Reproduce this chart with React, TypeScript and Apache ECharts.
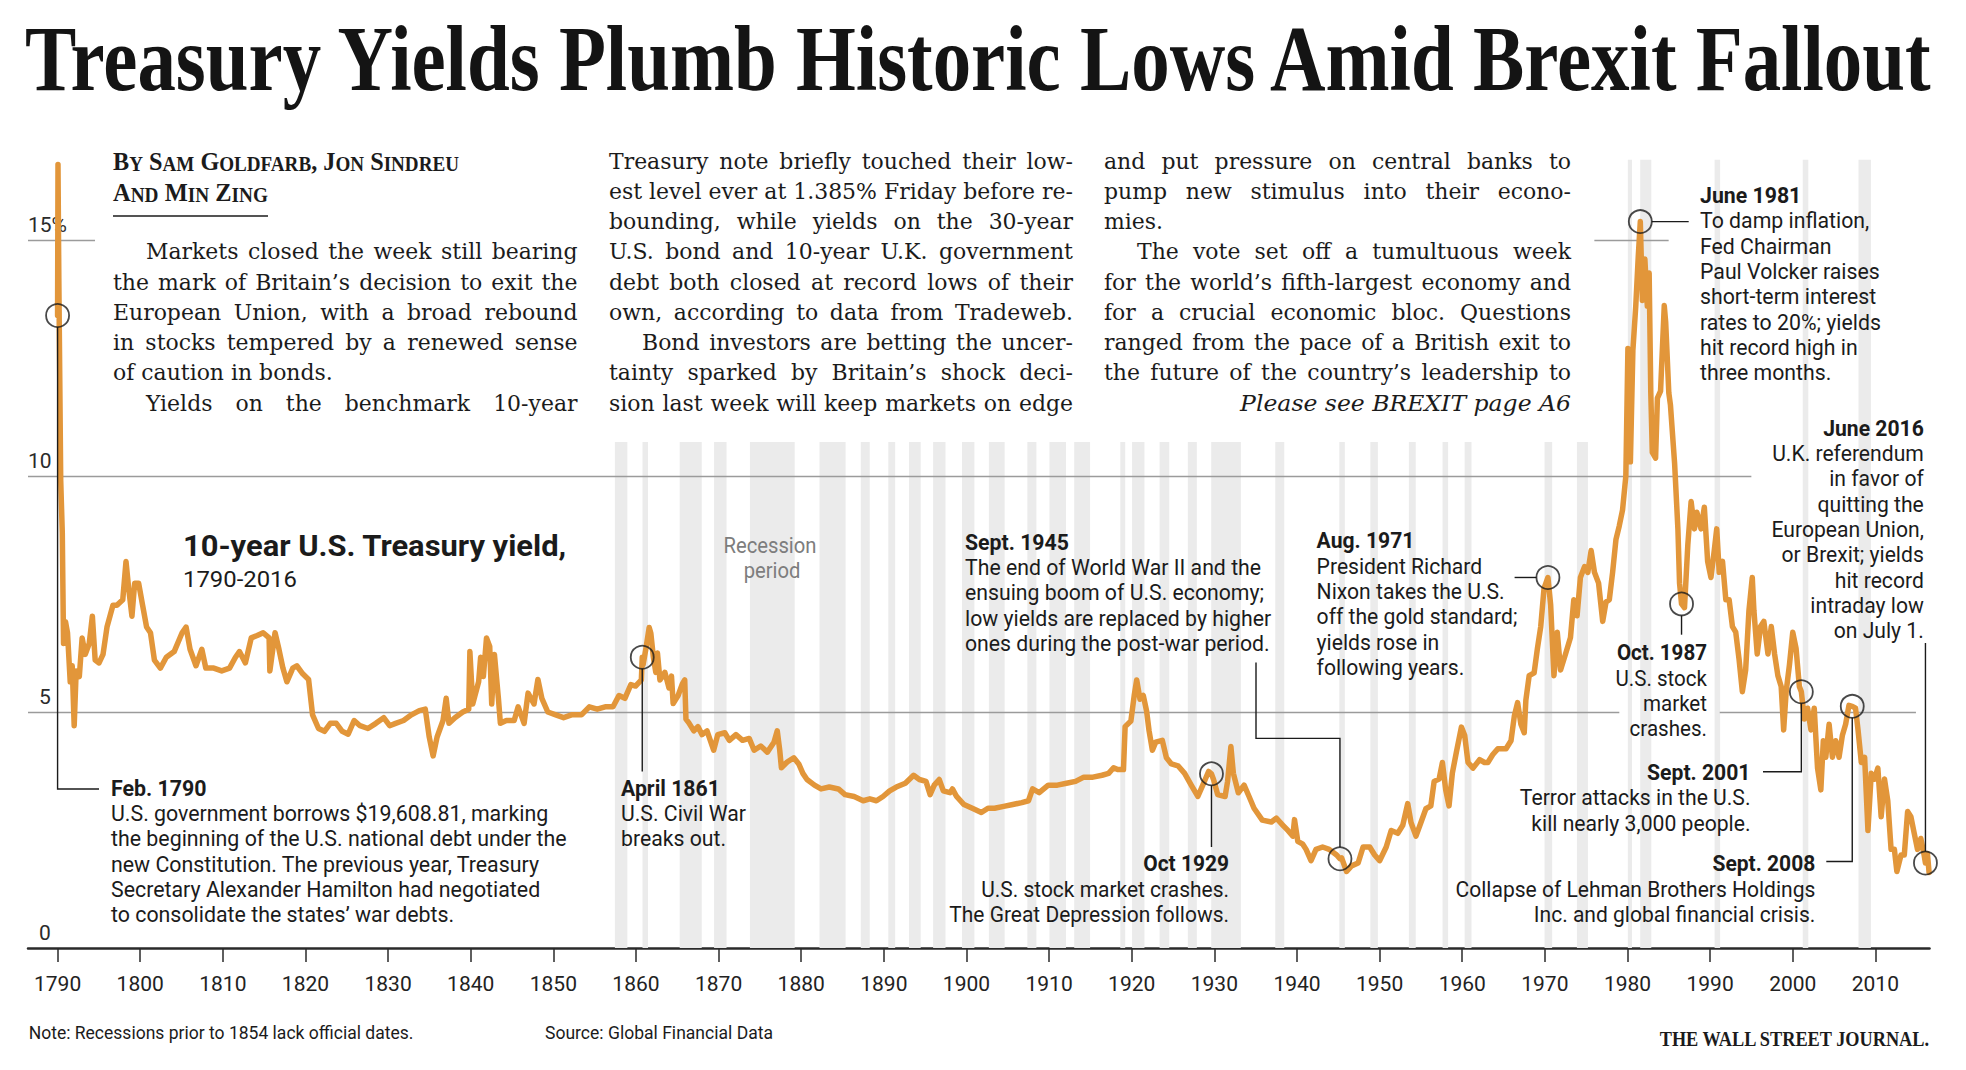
import React, { useEffect, useRef } from "react";
import * as echarts from "echarts";

const W = 1966;
const H = 1070;
const SERIF = '"Liberation Serif", "Times New Roman", serif';
const BODY_SERIF = '"DejaVu Serif", "Liberation Serif", serif';
const SANS = 'Roboto, "Liberation Sans", Arial, sans-serif';
const INK = "#1b1b1b";
const ORANGE = "#e2963a";
const BAND = "#ebebeb";
const GRIDC = "#9b9b9b";

// ---------------- data ----------------
const yearsA = [
  1790.0, 1790.05, 1790.15, 1790.38, 1790.57, 1790.72, 1790.96, 1791.2, 1791.53, 1791.77,
  1792.01, 1792.25, 1792.63, 1792.97, 1793.35, 1793.83, 1794.21, 1794.55, 1795.02, 1795.5,
  1795.98, 1796.7, 1797.18, 1797.89, 1798.28, 1798.61, 1799.0, 1799.33, 1799.81, 1800.29,
  1800.77, 1801.24, 1801.72, 1802.44, 1803.16, 1804.11, 1805.07, 1805.55, 1806.03, 1806.75,
  1807.46, 1807.94, 1808.9, 1809.86, 1810.81, 1811.53, 1812.01, 1812.73, 1813.44, 1814.16,
  1814.88, 1815.6, 1815.69, 1816.32, 1816.79, 1817.27, 1817.75, 1818.47, 1818.95, 1819.67,
  1820.38, 1820.86, 1821.58, 1822.3, 1823.01, 1823.73, 1824.45, 1825.17, 1825.89, 1826.6,
  1827.56, 1828.52, 1829.47, 1830.19, 1830.91, 1831.87, 1832.82, 1833.78, 1834.5, 1834.98,
  1835.45, 1835.93, 1836.65, 1837.03, 1837.37, 1838.09, 1839.04, 1839.76, 1839.9, 1840.24,
  1840.96, 1841.2, 1841.53, 1841.91, 1842.3, 1842.54, 1842.87, 1843.35, 1843.59, 1844.31,
  1845.26, 1845.74, 1846.46, 1846.94, 1847.66, 1848.13, 1848.61, 1849.33, 1850.29, 1851.24,
  1852.2, 1853.4, 1854.35, 1855.31, 1856.27, 1857.22, 1857.94, 1858.66, 1859.38,
];
const yieldsA = [
  13.4, 16.6, 14.2, 9.9, 8.8, 6.45, 6.91, 6.68, 5.64, 5.98,
  4.71, 5.87, 5.75, 6.57, 6.22, 6.45, 7.03, 6.1, 6.04, 6.22,
  6.8, 7.26, 7.26, 7.38, 8.19, 7.61, 7.03, 7.73, 7.73, 7.26,
  6.8, 6.68, 6.1, 5.93, 6.16, 6.28, 6.68, 6.8, 6.33, 5.98,
  6.33, 5.93, 5.93, 5.87, 5.93, 6.16, 6.28, 6.04, 6.57, 6.62,
  6.68, 6.57, 5.87, 6.68, 6.33, 5.93, 5.64, 5.93, 5.98, 5.81,
  5.69, 4.94, 4.65, 4.59, 4.76, 4.76, 4.59, 4.53, 4.82, 4.71,
  4.65, 4.76, 4.88, 4.71, 4.76, 4.82, 4.94, 5.03, 5.06, 4.47,
  4.07, 4.47, 4.82, 5.29, 4.76, 4.88, 5.0, 5.06, 6.28, 5.17,
  5.64, 6.16, 5.75, 6.57, 6.39, 5.17, 6.22, 5.29, 4.76, 4.82,
  4.82, 5.11, 4.76, 5.4, 5.17, 5.69, 5.29, 5.0, 4.94, 4.88,
  4.94, 4.94, 5.11, 5.06, 5.11, 5.11, 5.35, 5.29, 5.58,
];

const yearsB = [
  1859.95, 1860.65, 1860.76, 1860.86, 1861.2, 1861.6, 1861.8, 1862.1, 1862.4, 1862.6,
  1862.9, 1863.5, 1864.0, 1864.3, 1864.5, 1865.1, 1865.6, 1865.9, 1866.05, 1866.4,
  1867.0, 1867.5, 1868.0, 1868.6, 1869.4, 1869.9, 1870.75, 1871.3, 1872.1, 1872.9,
  1873.7, 1874.3, 1875.1, 1875.9, 1876.7, 1877.1, 1877.4, 1877.6, 1878.3, 1879.1,
  1879.7, 1880.2, 1880.7, 1881.6, 1882.4, 1883.4, 1884.5, 1885.3, 1886.4, 1887.5,
  1888.3, 1889.1, 1889.9, 1890.7, 1891.5, 1892.6, 1893.6, 1894.3, 1895.1, 1895.6,
  1896.1, 1896.7, 1897.2, 1898.0, 1898.3, 1898.8, 1899.7, 1900.7, 1901.8, 1902.6,
  1903.4, 1904.5, 1905.6, 1906.7, 1907.5, 1908.0, 1908.8, 1909.9, 1911.0, 1912.1,
  1913.2, 1914.2, 1915.3, 1916.4, 1917.2, 1917.8, 1918.3, 1919.0, 1919.2, 1919.9,
  1920.3, 1920.6, 1921.0, 1921.4, 1921.8, 1922.1, 1922.5, 1922.9, 1923.7, 1924.2,
  1924.8, 1925.6, 1926.4, 1927.2, 1928.0, 1928.6, 1929.3, 1929.65, 1929.9, 1930.4,
  1931.3, 1931.6, 1932.0, 1932.3, 1932.9, 1933.6, 1934.2, 1934.8, 1935.8, 1936.9,
  1937.5, 1938.3, 1938.9, 1939.5, 1939.7, 1940.1,
];
const yieldsB = [
  5.55, 5.68, 6.16, 6.0, 6.34, 6.79, 6.67, 6.17, 5.84, 6.25,
  5.68, 5.84, 5.51, 5.76, 5.18, 5.35, 5.59, 5.68, 4.85, 4.77,
  4.6, 4.69, 4.52, 4.6, 4.19, 4.52, 4.56, 4.4, 4.52, 4.4,
  4.44, 4.19, 4.28, 4.15, 4.36, 4.6, 4.19, 3.82, 3.94, 4.03,
  3.9, 3.7, 3.57, 3.45, 3.37, 3.41, 3.37, 3.25, 3.21, 3.12,
  3.16, 3.12, 3.21, 3.33, 3.41, 3.49, 3.66, 3.57, 3.53, 3.25,
  3.45, 3.57, 3.33, 3.29, 3.37, 3.21, 3.04, 2.96, 2.87, 2.96,
  2.96, 3.0, 3.04, 3.08, 3.12, 3.37, 3.29, 3.45, 3.45, 3.49,
  3.53, 3.62, 3.62, 3.66, 3.7, 3.82, 3.78, 3.78, 4.69, 4.81,
  5.35, 5.68, 5.27, 5.35, 5.02, 4.6, 4.19, 4.36, 4.4, 4.03,
  3.9, 3.86, 3.7, 3.45, 3.21, 3.45, 3.74, 3.69, 3.57, 3.25,
  3.21, 3.53, 4.27, 3.7, 3.29, 3.45, 3.21, 2.96, 2.71, 2.67,
  2.75, 2.6, 2.49, 2.37, 2.72, 2.26,
];

const yearsC = [
  1940.7, 1941.1, 1941.7, 1942.3, 1943.1, 1943.9, 1944.8, 1945.2, 1945.4, 1946.0,
  1946.6, 1947.4, 1948.0, 1948.8, 1949.4, 1950.0, 1950.8, 1951.4, 1952.2, 1952.8,
  1953.4, 1953.8, 1954.4, 1955.0, 1955.6, 1956.2, 1956.6, 1957.2, 1957.6, 1958.0,
  1958.4, 1958.8, 1959.3, 1959.9, 1960.3, 1960.7, 1961.3, 1962.1, 1962.7, 1963.1,
  1963.7, 1964.3, 1965.3, 1965.9, 1966.3, 1966.7, 1967.1, 1967.5, 1967.7, 1968.1,
  1968.7, 1969.1, 1969.5, 1969.9, 1970.37, 1970.7, 1971.1, 1971.5, 1971.9, 1972.5,
  1973.1, 1973.5, 1973.9, 1974.3, 1974.8, 1975.2, 1975.6, 1976.0, 1976.5, 1977.0,
  1977.4, 1977.8, 1978.2, 1978.6, 1979.0, 1979.4, 1979.8, 1980.05, 1980.35, 1980.65,
  1981.0, 1981.3, 1981.55, 1981.8, 1982.1, 1982.4, 1982.62, 1982.82, 1983.0, 1983.4,
  1983.62, 1984.0, 1984.45, 1984.62, 1985.0, 1985.2, 1985.7, 1986.1, 1986.3, 1986.54,
  1986.9, 1987.3, 1987.7, 1988.1, 1988.4, 1988.9, 1989.3, 1989.7, 1990.1, 1990.5,
  1990.8, 1991.1, 1991.5, 1991.9, 1992.3, 1992.7, 1993.1, 1993.5, 1993.9, 1994.3,
  1994.7, 1995.1, 1995.3, 1995.7, 1996.1, 1996.5, 1997.0, 1997.4, 1997.8, 1998.2,
  1998.6, 1998.9, 1999.2, 1999.6, 2000.0, 2000.4, 2000.8, 2001.04, 2001.4, 2001.8,
  2002.2, 2002.6, 2003.0, 2003.4, 2003.7, 2004.0, 2004.4, 2004.8, 2005.2, 2005.6,
  2006.0, 2006.4, 2006.8, 2007.2, 2007.6, 2007.9, 2008.3, 2008.7, 2009.1, 2009.5,
  2009.9, 2010.3, 2010.7, 2011.1, 2011.5, 2011.9, 2012.3, 2012.6, 2013.1, 2013.5,
  2013.9, 2014.3, 2014.7, 2015.1, 2015.5, 2015.9, 2016.06, 2016.3, 2016.5,
];
const yieldsC = [
  2.2, 2.09, 1.85, 2.09, 2.14, 2.09, 1.97, 1.89, 1.91, 1.62,
  1.74, 1.8, 2.14, 2.14, 1.97, 1.85, 2.14, 2.49, 2.43, 2.6,
  3.06, 2.66, 2.37, 2.66, 2.95, 3.01, 3.53, 3.58, 3.93, 3.35,
  3.01, 3.7, 4.16, 4.68, 4.5, 3.93, 3.81, 3.99, 3.93, 3.93,
  4.1, 4.22, 4.22, 4.39, 4.91, 5.2, 4.74, 4.56, 5.25, 5.77,
  5.83, 6.35, 6.81, 7.62, 7.85, 7.27, 5.77, 6.69, 5.89, 6.23,
  6.58, 7.38, 7.04, 7.85, 8.08, 7.96, 8.42, 7.96, 7.73, 6.92,
  7.33, 7.38, 7.96, 8.65, 8.94, 9.28, 10.0, 12.7, 10.3, 12.65,
  13.6, 14.64, 15.39, 13.72, 14.6, 13.6, 14.3, 11.76, 10.5, 10.38,
  11.65, 11.8, 13.61, 13.26, 11.76, 11.5, 10.27, 8.88, 7.73, 7.29,
  7.21, 8.54, 9.46, 8.88, 9.23, 8.88, 9.34, 8.19, 7.85, 8.42,
  8.88, 7.96, 8.19, 7.38, 7.38, 6.81, 6.69, 6.12, 5.43, 5.89,
  7.15, 7.85, 7.15, 6.23, 6.81, 6.92, 6.23, 6.81, 6.23, 5.77,
  5.54, 4.62, 5.43, 6.0, 6.69, 6.35, 5.54, 5.43, 4.85, 5.08,
  4.62, 5.08, 3.81, 3.35, 4.39, 4.04, 4.74, 4.04, 4.39, 4.04,
  4.5, 4.74, 5.14, 5.12, 5.08, 4.62, 3.93, 4.04, 2.49, 3.7,
  3.58, 3.81, 2.78, 3.58, 3.12, 2.09, 2.09, 1.62, 1.97, 1.97,
  2.89, 2.78, 2.43, 2.09, 2.32, 1.97, 1.8, 2.0, 1.6,
];

// recession periods (NBER), decimal years
const recessionStart = [
  1857.45, 1860.79, 1865.29, 1869.45, 1873.79, 1882.21, 1887.21, 1890.54, 1893.04, 1895.96,
  1899.46, 1902.71, 1907.37, 1910.04, 1913.04, 1918.62, 1920.04, 1923.37, 1926.79, 1929.62,
  1937.37, 1945.12, 1948.88, 1953.54, 1957.62, 1960.29, 1969.96, 1973.88, 1980.04, 1981.54,
  1990.54, 2001.21, 2007.96,
];
const recessionEnd = [
  1858.96, 1861.46, 1867.96, 1870.96, 1879.21, 1885.37, 1888.29, 1891.37, 1894.46, 1897.46,
  1900.96, 1904.62, 1908.46, 1912.04, 1914.96, 1919.21, 1921.54, 1924.54, 1927.88, 1933.21,
  1938.46, 1945.79, 1949.79, 1954.37, 1958.29, 1961.12, 1970.88, 1975.21, 1980.54, 1982.88,
  1991.21, 2001.88, 2009.46,
];

// annotated events (circles on the line)
const eventYears = [1790.0, 1860.76, 1929.65, 1945.2, 1970.37, 1981.55, 1986.54, 2001.04, 2007.2, 2016.06];
const eventYields = [13.4, 6.16, 3.69, 1.89, 7.85, 15.39, 7.29, 5.43, 5.12, 1.8];

const decadeTicks = [1790, 1800, 1810, 1820, 1830, 1840, 1850, 1860, 1870, 1880, 1890, 1900,
  1910, 1920, 1930, 1940, 1950, 1960, 1970, 1980, 1990, 2000, 2010];
const yTicks = [0, 5, 10, 15];

// ---------------- layout ----------------
const X_MIN = 1786.42;
const X_MAX = 2016.55;
const Y_MAX = 17;
const BAND_TOP_LOW = 10.72; // bands stop below the article text
const BAND_TOP_HIGH = 16.7; // bands right of the text columns
const BAND_SPLIT_YEAR = 1978;
// gridline segments [value, fromYear, toYear]
const GRID_SEGMENTS: [number, number, number][] = [
  [15, 1786.42, 1794.53],
  [15, 1975.99, 1984.98],
  [10, 1786.42, 1994.99],
  [5, 1786.42, 1979.01],
  [5, 1991.16, 2014.91],
];

const TITLE = "Treasury Yields Plumb Historic Lows Amid Brexit Fallout";

const COLS = [
  { left: 113, right: 577.5 },
  { left: 609, right: 1073 },
  { left: 1104, right: 1571 },
];
const LINE0 = 160.5;
const LEAD = 30.25;
const BODY_SIZE = 23;

type BodyLine = [string, string];
const col1: BodyLine[] = [
  ["Markets closed the week still bearing", "ji"],
  ["the mark of Britain\u2019s decision to exit the", "j"],
  ["European Union, with a broad rebound", "j"],
  ["in stocks tempered by a renewed sense", "j"],
  ["of caution in bonds.", "l"],
  ["Yields on the benchmark 10-year", "ji"],
];
const col2: BodyLine[] = [
  ["Treasury note briefly touched their low-", "j"],
  ["est level ever at 1.385% Friday before re-", "j"],
  ["bounding, while yields on the 30-year", "j"],
  ["U.S. bond and 10-year U.K. government", "j"],
  ["debt both closed at record lows of their", "j"],
  ["own, according to data from Tradeweb.", "j"],
  ["Bond investors are betting the uncer-", "ji"],
  ["tainty sparked by Britain\u2019s shock deci-", "j"],
  ["sion last week will keep markets on edge", "j"],
];
const col3: BodyLine[] = [
  ["and put pressure on central banks to", "j"],
  ["pump new stimulus into their econo-", "j"],
  ["mies.", "l"],
  ["The vote set off a tumultuous week", "ji"],
  ["for the world\u2019s fifth-largest economy and", "j"],
  ["for a crucial economic bloc. Questions", "j"],
  ["ranged from the pace of a British exit to", "j"],
  ["the future of the country\u2019s leadership to", "j"],
  ["Please see BREXIT page A6", "r"],
];

const NOTES = [
  { head: "Feb. 1790", body: ["U.S. government borrows $19,608.81, marking", "the beginning of the U.S. national debt under the", "new Constitution. The previous year, Treasury", "Secretary Alexander Hamilton had negotiated", "to consolidate the states\u2019 war debts."], x: 111, y: 788, align: "left", ref: 1, refW: 456 },
  { head: "April 1861", body: ["U.S. Civil War", "breaks out."], x: 621, y: 788, align: "left", ref: 0, refW: 125 },
  { head: "Sept. 1945", body: ["The end of World War II and the", "ensuing boom of U.S. economy;", "low yields are replaced by higher", "ones during the post-war period."], x: 965, y: 542, align: "left", ref: 3, refW: 305 },
  { head: "Oct 1929", body: ["U.S. stock market crashes.", "The Great Depression follows."], x: 1229, y: 863.7, align: "right", ref: 1, refW: 280 },
  { head: "Aug. 1971", body: ["President Richard", "Nixon takes the U.S.", "off the gold standard;", "yields rose in", "following years."], x: 1316.6, y: 540.6, align: "left", ref: 2, refW: 201 },
  { head: "June 1981", body: ["To damp inflation,", "Fed Chairman", "Paul Volcker raises", "short-term interest", "rates to 20%; yields", "hit record high in", "three months."], x: 1700, y: 195.3, align: "left", ref: 4, refW: 181 },
  { head: "June 2016", body: ["U.K. referendum", "in favor of", "quitting the", "European Union,", "or Brexit; yields", "hit record", "intraday low", "on July 1."], x: 1923.8, y: 428, align: "right", ref: 3, refW: 152.4 },
  { head: "Oct. 1987", body: ["U.S. stock", "market", "crashes."], x: 1707, y: 652.6, align: "right", ref: 0, refW: 91.5 },
  { head: "Sept. 2001", body: ["Terror attacks in the U.S.", "kill nearly 3,000 people."], x: 1750.5, y: 772.3, align: "right", ref: 0, refW: 230.7 },
  { head: "Sept. 2008", body: ["Collapse of Lehman Brothers Holdings", "Inc. and global financial crisis."], x: 1815.3, y: 863.6, align: "right", ref: 0, refW: 360 },
];
const NOTE_SIZE = 22.5;
const NOTE_LEAD = 25.3;
const R = 11.5;

// ---------------- helpers ----------------
let mctx: CanvasRenderingContext2D | null = null;
function measure(text: string, size: number, family: string, weight = "normal", style = "normal") {
  if (!mctx) mctx = document.createElement("canvas").getContext("2d");
  mctx!.font = `${style} ${weight} ${size}px ${family}`;
  return mctx!.measureText(text).width;
}

function T(text: string, x: number, y: number, o: any) {
  const align = o.align || "left";
  const style: any = {
    text,
    fill: o.color || INK,
    fontSize: o.size,
    fontFamily: o.family || SANS,
    fontWeight: o.weight || "normal",
    fontStyle: o.italic ? "italic" : "normal",
    align,
    textAlign: align,
    verticalAlign: "middle",
    textVerticalAlign: "middle",
  };
  if (o.rich) style.rich = o.rich;
  return { type: "text", x, y, scaleX: o.sx || 1, silent: true, z: 100, style };
}

function lineGeom(col: { left: number; right: number }, mode: string) {
  const indent = mode === "ji" ? 33 : 0;
  const x0 = col.left + indent;
  return { x0, width: col.right - x0 };
}

// one horizontal glyph scale for the whole article, so the tightest justified line fits exactly
function articleScale() {
  let s = 1;
  [col1, col2, col3].forEach((lines, ci) => {
    lines.forEach(([text, mode]) => {
      if (mode !== "j" && mode !== "ji") return;
      const { width } = lineGeom(COLS[ci], mode);
      s = Math.min(s, width / measure(text, BODY_SIZE, BODY_SERIF));
    });
  });
  return Math.max(0.7, s);
}

function bodyColumn(lines: BodyLine[], colIdx: number, startRow: number, s: number, els: any[]) {
  const col = COLS[colIdx];
  const size = BODY_SIZE;
  lines.forEach(([text, mode], k) => {
    const y = LINE0 + LEAD * (startRow + k);
    const { x0, width } = lineGeom(col, mode);
    if (mode === "r") {
      const nat = measure(text, size, BODY_SERIF, "normal", "italic");
      els.push(T(text, col.right, y, { size, family: BODY_SERIF, italic: true, align: "right", sx: 331 / nat }));
      return;
    }
    if (mode === "l") {
      els.push(T(text, x0, y, { size, family: BODY_SERIF, sx: s }));
      return;
    }
    const words = text.split(" ");
    const ww = words.map((w) => measure(w, size, BODY_SERIF) * s);
    const gap = (width - ww.reduce((a, b) => a + b, 0)) / Math.max(1, words.length - 1);
    let x = x0;
    words.forEach((w, i) => {
      els.push(T(w, x, y, { size, family: BODY_SERIF, sx: s }));
      x += ww[i] + gap;
    });
  });
}

function smallCaps(s: string, big: number, small: number) {
  const segs: [string, string][] = [];
  let i = 0;
  while (i < s.length) {
    const lower = /[a-z]/.test(s[i]);
    let j = i;
    while (j < s.length && /[a-z]/.test(s[j]) === lower) j++;
    segs.push([lower ? "s" : "b", lower ? s.slice(i, j).toUpperCase() : s.slice(i, j)]);
    i = j;
  }
  const text = segs.map(([k, t]) => `{${k}|${t}}`).join("");
  const width = segs.reduce((a, [k, t]) => a + measure(t, k === "b" ? big : small, SERIF, "bold"), 0);
  return { text, width };
}

function buildOption() {
  const lineData = [
    ...yearsA.map((y, i) => [y, yieldsA[i]]),
    ...yearsB.map((y, i) => [y, yieldsB[i]]),
    ...yearsC.map((y, i) => [y, yieldsC[i]]),
  ];
  const bands = recessionStart.map((s, i) => [
    { xAxis: s, yAxis: 0 },
    { xAxis: recessionEnd[i], yAxis: s > BAND_SPLIT_YEAR ? BAND_TOP_HIGH : BAND_TOP_LOW },
  ]);
  const grids = GRID_SEGMENTS.map(([v, a, b]) => [{ coord: [a, v] }, { coord: [b, v] }]);
  const labelRich = {
    p: { padding: [0, 0, 0, 11], fontSize: 21, fontFamily: SANS, color: "#2b2b2b", lineHeight: 31 },
  };
  return {
    animation: false,
    backgroundColor: "#ffffff",
    grid: { left: 28, right: W - 1929.5, top: 948 - Y_MAX * 47.2, bottom: H - 948, containLabel: false, outerBoundsMode: "none" },
    xAxis: {
      type: "value",
      min: X_MIN,
      max: X_MAX,
      axisLine: { show: true, lineStyle: { color: "#2a2a2a", width: 2.5 } },
      axisTick: { show: true, customValues: decadeTicks, length: 14, lineStyle: { color: "#2a2a2a", width: 1.5 } },
      axisLabel: { customValues: decadeTicks, margin: 25, fontSize: 21, fontFamily: SANS, color: "#222", formatter: (v: number) => String(v) },
      splitLine: { show: false },
    },
    yAxis: {
      type: "value",
      min: 0,
      max: Y_MAX,
      axisLine: { show: false },
      axisTick: { show: false },
      splitLine: { show: false },
      axisLabel: {
        inside: true,
        margin: 0,
        align: "left",
        customValues: yTicks,
        verticalAlign: "bottom",
        lineHeight: 31,
        fontSize: 21,
        fontFamily: SANS,
        color: "#2b2b2b",
        rich: labelRich,
        formatter: (v: number) => (v === 15 ? "15%" : v === 10 ? "10" : `{p|${v}}`),
      },
    },
    series: [
      {
        type: "line",
        data: [],
        silent: true,
        markArea: { silent: true, z: 1, itemStyle: { color: BAND }, label: { show: false }, data: bands },
        markLine: {
          silent: true,
          z: 2,
          symbol: ["none", "none"],
          label: { show: false },
          lineStyle: { color: GRIDC, width: 1.3, type: "solid" },
          data: grids,
        },
      },
      {
        type: "line",
        data: lineData,
        z: 3,
        silent: true,
        showSymbol: false,
        symbol: "none",
        lineStyle: { color: ORANGE, width: 5.5, join: "round", cap: "round" },
      },
      {
        type: "scatter",
        data: eventYears.map((y, i) => [y, eventYields[i]]),
        z: 4,
        silent: true,
        symbol: "circle",
        symbolSize: R * 2,
        itemStyle: { color: "rgba(255,255,255,0)", borderColor: INK, borderWidth: 1.8 },
      },
    ],
  };
}

function buildGraphics(chart: any) {
  const els: any[] = [];
  // headline
  const tw = measure(TITLE, 94, SERIF, "bold");
  els.push(T(TITLE, 25, 58.5, { size: 94, family: SERIF, weight: "bold", sx: 1912 / tw, color: "#141414" }));

  // byline
  const rich = {
    b: { fontSize: 26, fontFamily: SERIF, fontWeight: "bold", fill: INK, color: INK, verticalAlign: "bottom" },
    s: { fontSize: 20.5, fontFamily: SERIF, fontWeight: "bold", fill: INK, color: INK, verticalAlign: "bottom" },
  };
  const by1 = smallCaps("By Sam Goldfarb, Jon Sindreu", 26, 20.5);
  const by2 = smallCaps("And Min Zing", 26, 20.5);
  els.push(T(by1.text, 113, 161, { size: 26, family: SERIF, weight: "bold", rich, sx: 346 / by1.width }));
  els.push(T(by2.text, 113, 192, { size: 26, family: SERIF, weight: "bold", rich, sx: 155 / by2.width }));
  els.push({ type: "line", silent: true, z: 100, shape: { x1: 113, y1: 216, x2: 268, y2: 216 }, style: { stroke: INK, lineWidth: 1.5 } });

  // article columns
  const s = articleScale();
  bodyColumn(col1, 0, 3, s, els);
  bodyColumn(col2, 1, 0, s, els);
  bodyColumn(col3, 2, 0, s, els);

  // chart label
  const l1 = "10-year U.S. Treasury yield,";
  els.push(T(l1, 183, 546, { size: 30, weight: "bold", sx: 384 / measure(l1, 30, SANS, "bold") }));
  els.push(T("1790-2016", 183, 579.5, { size: 22, sx: 114 / measure("1790-2016", 22, SANS) }));

  const rs = 93 / measure("Recession", 22, SANS);
  els.push(T("Recession", 770, 545, { size: 22, align: "center", color: "#7d7d7d", sx: rs }));
  els.push(T("period", 772, 570, { size: 22, align: "center", color: "#7d7d7d", sx: rs }));

  // annotations
  NOTES.forEach((n) => {
    const sx = n.refW / measure(n.body[n.ref], NOTE_SIZE, SANS);
    els.push(T(n.head, n.x, n.y, { size: NOTE_SIZE, weight: "bold", align: n.align, sx }));
    n.body.forEach((line, i) => {
      els.push(T(line, n.x, n.y + NOTE_LEAD * (i + 1), { size: NOTE_SIZE, align: n.align, sx }));
    });
  });

  // leader lines from the event circles
  const c = eventYears.map((y, i) => chart.convertToPixel({ seriesIndex: 2 }, [y, eventYields[i]]));
  const leaders = [
    [[c[0][0], c[0][1] + R], [c[0][0], 789], [99, 789]],
    [[c[1][0], c[1][1] + R], [c[1][0], 771.5]],
    [[c[2][0], c[2][1] + R], [c[2][0], 847]],
    [[1256, 662.6], [1256, 738.4], [c[3][0], 738.4], [c[3][0], c[3][1] - R]],
    [[1514.6, c[4][1]], [c[4][0] - R, c[4][1]]],
    [[c[5][0] + R, c[5][1]], [1688.7, c[5][1]]],
    [[c[6][0], c[6][1] + R], [c[6][0], 634.7]],
    [[c[7][0], c[7][1] + R], [c[7][0], 771.7], [1763, 771.7]],
    [[c[8][0], c[8][1] + R], [c[8][0], 861.5], [1826.3, 861.5]],
    [[c[9][0], 643], [c[9][0], c[9][1] - R]],
  ];
  leaders.forEach((pts) => {
    els.push({ type: "polyline", silent: true, z: 50, shape: { points: pts }, style: { stroke: INK, lineWidth: 1.4, fill: null } });
  });

  // footer
  const note = "Note: Recessions prior to 1854 lack official dates.";
  els.push(T(note, 28.7, 1033, { size: 18, sx: 385 / measure(note, 18, SANS) }));
  const src = "Source: Global Financial Data";
  els.push(T(src, 545, 1033, { size: 18, sx: 228 / measure(src, 18, SANS) }));
  const wsj = "THE WALL STREET JOURNAL.";
  els.push(T(wsj, 1929, 1039, { size: 21, family: SERIF, weight: "bold", align: "right", sx: 271 / measure(wsj, 21, SERIF, "bold") }));
  return els;
}

export default function App() {
  const ref = useRef<HTMLDivElement>(null);
  useEffect(() => {
    const el = ref.current;
    if (!el) return;
    const chart = echarts.init(el, undefined, { renderer: "svg" });
    chart.setOption(buildOption() as any);
    chart.setOption({ graphic: { elements: buildGraphics(chart) } } as any);
    return () => chart.dispose();
  }, []);
  return (
    <div
      ref={ref}
      style={{ position: "absolute", left: 0, top: 0, width: W, height: H, background: "#fff" }}
    />
  );
}
